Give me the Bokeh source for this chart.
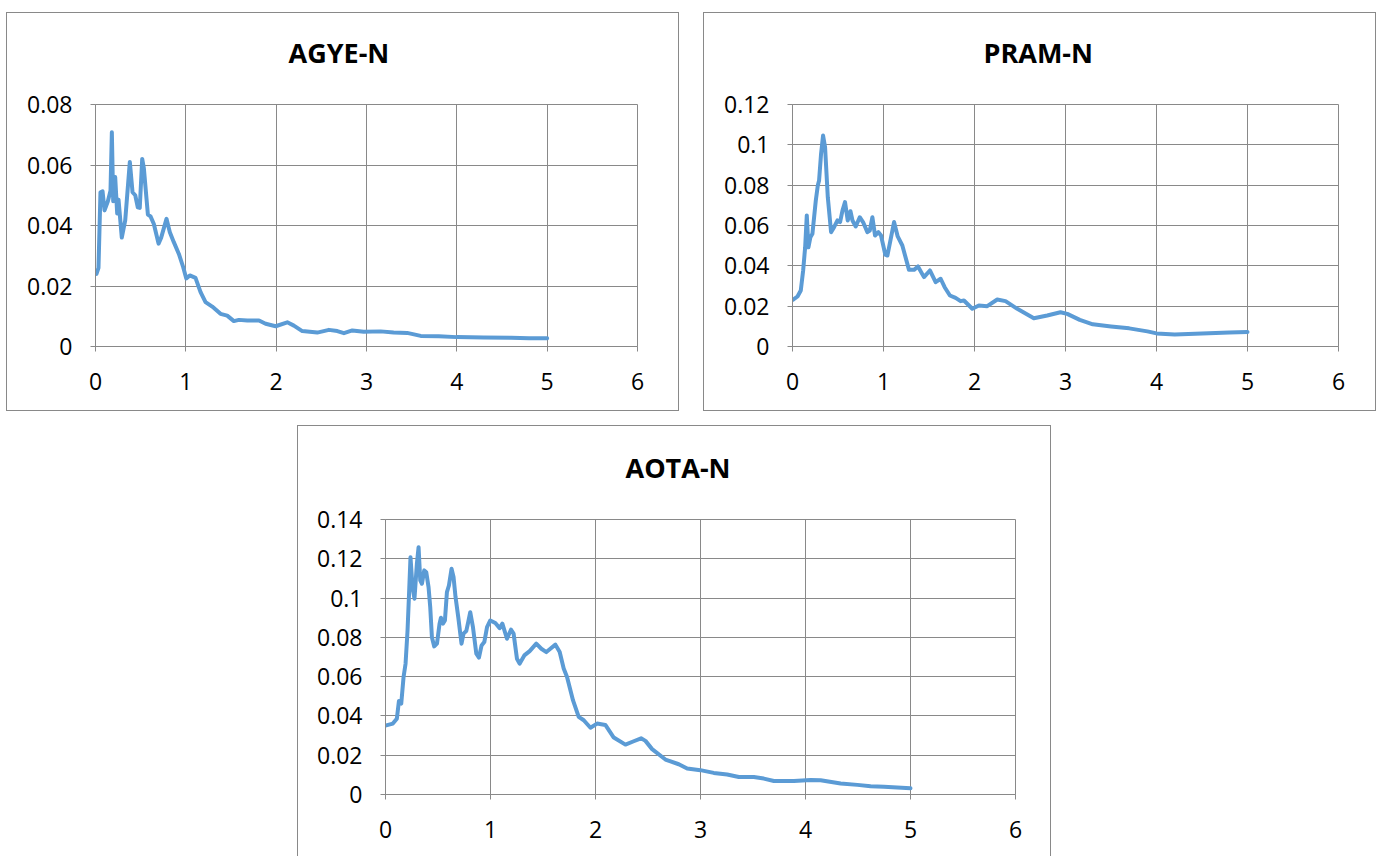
from bokeh.plotting import figure
from bokeh.layouts import column, row
from bokeh.models import Spacer, Range1d, FixedTicker
from bokeh.embed import file_html
from bokeh.resources import INLINE

# ---------------- data ----------------
agye_x = [0.011, 0.033, 0.055, 0.078, 0.100, 0.137, 0.166, 0.181, 0.196, 0.218, 0.240, 0.255,
          0.291, 0.329, 0.380, 0.410, 0.440, 0.468, 0.490, 0.517, 0.535, 0.580, 0.609, 0.646,
          0.698, 0.727, 0.786, 0.823, 0.867, 0.923, 0.971, 1.005, 1.044, 1.107, 1.163, 1.218,
          1.292, 1.384, 1.458, 1.532, 1.587, 1.68, 1.81, 1.883, 1.994, 2.123, 2.196, 2.289,
          2.455, 2.584, 2.677, 2.75, 2.843, 2.97, 3.156, 3.3, 3.45, 3.6, 3.8, 4.0, 4.3, 4.6,
          4.8, 5.0]
agye_y = [0.024, 0.026, 0.051, 0.0513, 0.045, 0.048, 0.0515, 0.0708, 0.048, 0.056, 0.044, 0.0485,
          0.036, 0.0417, 0.061, 0.051, 0.050, 0.046, 0.0458, 0.062, 0.059, 0.0436, 0.043, 0.0405,
          0.034, 0.036, 0.0422, 0.0378, 0.0345, 0.0306, 0.0262, 0.0225, 0.0235, 0.0227, 0.018, 0.0147,
          0.0132, 0.0108, 0.0102, 0.0084, 0.0088, 0.0086, 0.0086, 0.0075, 0.0067, 0.008, 0.0069, 0.0051,
          0.0046, 0.0055, 0.0051, 0.0044, 0.0053, 0.0049, 0.005, 0.0046, 0.0045, 0.0035, 0.0034, 0.0031,
          0.003, 0.0029, 0.0027, 0.0027]

pram_x = [0.007, 0.055, 0.091, 0.117, 0.139, 0.157, 0.175, 0.197, 0.219, 0.256, 0.278, 0.292,
          0.314, 0.336, 0.358, 0.388, 0.424, 0.457, 0.494, 0.523, 0.549, 0.577, 0.607, 0.637,
          0.659, 0.695, 0.739, 0.775, 0.823, 0.849, 0.878, 0.907, 0.944, 0.973, 1.02, 1.043,
          1.116, 1.156, 1.207, 1.28, 1.335, 1.379, 1.445, 1.51, 1.573, 1.628, 1.672, 1.73,
          1.792, 1.847, 1.884, 1.976, 2.048, 2.14, 2.25, 2.341, 2.47, 2.652, 2.799, 2.945,
          3.019, 3.157, 3.3, 3.5, 3.7, 3.9, 4.0, 4.2, 4.5, 4.8, 5.0]
pram_y = [0.0232, 0.0248, 0.0278, 0.0377, 0.0492, 0.065, 0.0492, 0.0542, 0.0559, 0.0724, 0.0798, 0.0823,
          0.0956, 0.1046, 0.0988, 0.074, 0.0567, 0.0592, 0.0625, 0.0617, 0.0674, 0.0716, 0.0625, 0.0671,
          0.0625, 0.0595, 0.0641, 0.0617, 0.0567, 0.0575, 0.0641, 0.055, 0.0567, 0.055, 0.0455, 0.0451,
          0.0617, 0.0546, 0.0501, 0.038, 0.038, 0.0397, 0.0344, 0.0377, 0.0319, 0.0336, 0.0294, 0.0253,
          0.0241, 0.0225, 0.0228, 0.0187, 0.0203, 0.02, 0.0233, 0.0225, 0.0187, 0.014, 0.0154, 0.017,
          0.0162, 0.0132, 0.011, 0.0099, 0.009, 0.0075, 0.0065, 0.006, 0.0065, 0.007, 0.0072]

aota_x = [0.007, 0.07, 0.108, 0.128, 0.15, 0.172, 0.191, 0.21, 0.223, 0.238, 0.257, 0.276,
          0.299, 0.315, 0.331, 0.347, 0.369, 0.388, 0.41, 0.426, 0.442, 0.464, 0.49, 0.515,
          0.528, 0.547, 0.566, 0.585, 0.604, 0.629, 0.648, 0.667, 0.693, 0.724, 0.743, 0.769,
          0.788, 0.807, 0.833, 0.865, 0.89, 0.915, 0.941, 0.967, 0.998, 1.046, 1.087, 1.113,
          1.157, 1.195, 1.22, 1.252, 1.277, 1.322, 1.373, 1.436, 1.484, 1.532, 1.57, 1.618,
          1.659, 1.697, 1.729, 1.786, 1.84, 1.888, 1.952, 2.015, 2.094, 2.174, 2.285, 2.364,
          2.434, 2.476, 2.539, 2.666, 2.793, 2.873, 2.999, 3.126, 3.254, 3.365, 3.508, 3.603,
          3.699, 3.89, 4.049, 4.144, 4.335, 4.494, 4.62, 4.747, 5.0]
aota_y = [0.0352, 0.0361, 0.0386, 0.0476, 0.0463, 0.0598, 0.0666, 0.0835, 0.1005, 0.1208, 0.1056, 0.0997,
          0.1175, 0.1259, 0.109, 0.1073, 0.1141, 0.1132, 0.1056, 0.0954, 0.0801, 0.0754, 0.0768, 0.087,
          0.09, 0.087, 0.0886, 0.103, 0.1064, 0.1149, 0.1107, 0.1005, 0.0903, 0.0768, 0.0819, 0.0832,
          0.0878, 0.0928, 0.0852, 0.0717, 0.0697, 0.0759, 0.0776, 0.0852, 0.0886, 0.0873, 0.0847, 0.087,
          0.0793, 0.0839, 0.0819, 0.0691, 0.0666, 0.0708, 0.073, 0.0768, 0.0742, 0.0725, 0.0742, 0.0763,
          0.0725, 0.0641, 0.0598, 0.0479, 0.0395, 0.0378, 0.034, 0.0361, 0.0354, 0.029, 0.0254, 0.0271,
          0.0286, 0.0273, 0.0231, 0.0178, 0.0154, 0.0132, 0.0124, 0.011, 0.0102, 0.0089, 0.0089, 0.0081,
          0.0069, 0.0069, 0.0074, 0.0073, 0.0056, 0.0049, 0.0042, 0.0039, 0.0032]

x_ticks = [0, 1, 2, 3, 4, 5, 6]
x_tick_labels = ["0", "1", "2", "3", "4", "5", "6"]
agye_ticks = [0, 0.02, 0.04, 0.06, 0.08]
agye_tick_labels = ["0", "0.02", "0.04", "0.06", "0.08"]
pram_ticks = [0, 0.02, 0.04, 0.06, 0.08, 0.1, 0.12]
pram_tick_labels = ["0", "0.02", "0.04", "0.06", "0.08", "0.1", "0.12"]
aota_ticks = [0, 0.02, 0.04, 0.06, 0.08, 0.1, 0.12, 0.14]
aota_tick_labels = ["0", "0.02", "0.04", "0.06", "0.08", "0.1", "0.12", "0.14"]

titles = ["AGYE-N", "PRAM-N", "AOTA-N"]

# ---------------- style ----------------
LINE = "#5B9BD5"
GRID = "#898989"
FONT = "Open Sans"


def make_panel(title, xs, ys, yticks, ylabels, width, height, bl, br, bt, bb, title_offset, ymax):
    p = figure(width=width, height=height, output_backend="svg", toolbar_location=None,
               x_range=Range1d(0, 6), y_range=Range1d(0, ymax),
               min_border_left=bl, min_border_right=br, min_border_top=bt, min_border_bottom=bb)
    p.line(xs, ys, line_color=LINE, line_width=4, line_join="round", line_cap="round")
    p.title.text = title
    p.title.text_font = FONT
    p.title.text_font_style = "bold"
    p.title.text_font_size = "27px"
    p.title.align = "left"
    p.title.offset = title_offset
    p.title.vertical_align = "top"
    p.title.standoff = 64
    p.title.text_color = "#000000"
    p.outline_line_color = GRID
    p.outline_line_width = 1
    p.border_fill_color = None
    for ax in (p.xaxis[0], p.yaxis[0]):
        ax.axis_line_color = GRID
        ax.major_tick_line_color = GRID
        ax.major_tick_in = 0
        ax.major_tick_out = 5
        ax.minor_tick_line_color = None
        ax.major_label_text_font = FONT
        ax.major_label_text_font_size = "23px"
        ax.major_label_text_color = "#000000"
    p.xaxis.major_label_standoff = 21
    p.yaxis.major_label_standoff = 18
    p.xaxis.ticker = FixedTicker(ticks=x_ticks)
    p.xaxis.major_label_overrides = {t: l for t, l in zip(x_ticks, x_tick_labels)}
    p.yaxis.ticker = FixedTicker(ticks=yticks)
    p.yaxis.major_label_overrides = {t: l for t, l in zip(yticks, ylabels)}
    p.xgrid.ticker = FixedTicker(ticks=x_ticks)
    p.ygrid.ticker = FixedTicker(ticks=yticks)
    p.grid.grid_line_color = GRID
    p.grid.grid_line_width = 1
    return p


# figures start above their chart boxes; the box outline begins a few px lower
p1 = make_panel(titles[0], agye_x, agye_y, agye_ticks, agye_tick_labels,
                673, 411, 89, 42, 104, 65, 193, 0.08)
p2 = make_panel(titles[1], pram_x, pram_y, pram_ticks, pram_tick_labels,
                673, 411, 89, 38, 104, 65, 191, 0.12)
p3 = make_panel(titles[2], aota_x, aota_y, aota_ticks, aota_tick_labels,
                754, 445, 88, 36, 108, 62, 240, 0.14)


def box_style(top_gap, bottom=True):
    parts = ["inset 0 %dpx 0 0 #ffffff" % top_gap,
             "inset 0 %dpx 0 0 %s" % (top_gap + 1, GRID),
             "inset 1px 0 0 0 %s" % GRID,
             "inset -1px 0 0 0 %s" % GRID]
    if bottom:
        parts.append("inset 0 -1px 0 0 %s" % GRID)
    return {"box-shadow": ", ".join(parts)}


p1.styles = box_style(12)
p2.styles = box_style(12)
p3.styles = box_style(14, bottom=False)

layout = column(
    row(Spacer(width=6), p1, Spacer(width=24), p2),
    row(Spacer(width=297), p3),
)

open("out.html", "w").write(file_html(layout, INLINE))
